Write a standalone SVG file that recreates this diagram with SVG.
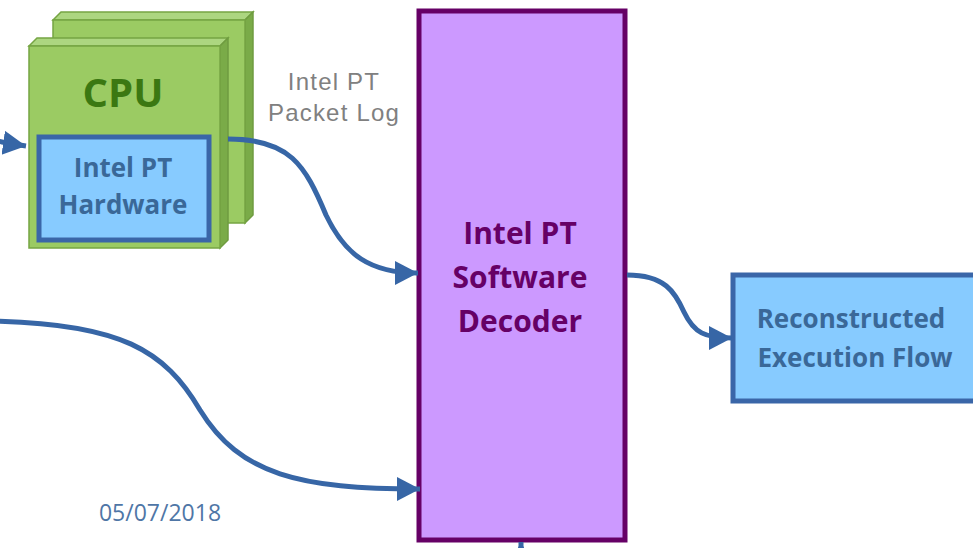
<svg xmlns="http://www.w3.org/2000/svg" width="973" height="548" viewBox="0 0 973 548">
<style>
.face{fill:#9bcb63;stroke:#76a543;stroke-width:1.5}
.top{fill:#acd680;stroke:#76a543;stroke-width:1.5}
.side{fill:#7aab48;stroke:#6f9c40;stroke-width:1.5}
.blue{fill:#87cbff;stroke:#3a66a8;stroke-width:5}
.dec{fill:#cc99ff;stroke:#660066;stroke-width:5}
.bt{font-family:"Open Sans","Noto Sans",sans-serif;font-weight:bold;text-anchor:middle}
.conn{fill:none;stroke:#3766a6;stroke-width:5}
</style>
<defs>
<marker id="ah" markerUnits="userSpaceOnUse" markerWidth="24" markerHeight="26" refX="23" refY="12" orient="auto" viewBox="0 0 24 24">
<path d="M0,0 L23,12 L0,24 z" fill="#3766a6"/>
</marker>
</defs>
<rect width="973" height="548" fill="#ffffff"/>
<g id="cpu">
<polygon class="top" points="53,20 61,12 253,12 245,20"/>
<polygon class="side" points="245,20 253,12 253,215 245,223"/>
<rect class="face" x="53" y="20" width="192" height="203"/>
<polygon class="top" points="29,46 37,38 228,38 220,46"/>
<polygon class="side" points="220,46 228,38 228,240 220,248"/>
<rect class="face" x="29" y="46" width="191" height="202"/>
<text class="bt" x="123" y="107" font-size="40" fill="#3b7812">CPU</text>
</g>
<g id="hardware">
<rect class="blue" x="39" y="137" width="170" height="103"/>
<text class="bt" x="123" y="177" font-size="26" fill="#3a6898">Intel PT</text>
<text class="bt" x="123" y="214" font-size="26" fill="#3a6898">Hardware</text>
</g>
<g id="decoder">
<rect class="dec" x="419" y="11" width="206" height="529"/>
<text class="bt" x="520" y="244" font-size="30" fill="#660066">Intel PT</text>
<text class="bt" x="520" y="288" font-size="30" fill="#660066">Software</text>
<text class="bt" x="520" y="332" font-size="30" fill="#660066">Decoder</text>
</g>
<g id="reconstructed">
<rect class="blue" x="733" y="275" width="260" height="126"/>
<text class="bt" x="851" y="328" font-size="26" fill="#3a6898">Reconstructed</text>
<text class="bt" x="855" y="367" font-size="26" fill="#3a6898">Execution Flow</text>
</g>
<g id="packet-log-label">
<text x="334" y="90" font-family="'Liberation Sans',Arial,sans-serif" font-size="24" letter-spacing="1.2" fill="#808080" text-anchor="middle">Intel PT</text>
<text x="334" y="121" font-family="'Liberation Sans',Arial,sans-serif" font-size="24" letter-spacing="1.2" fill="#808080" text-anchor="middle">Packet Log</text>
</g>
<g id="connectors">
<path class="conn" d="M -30 137 C -10 139, 5 143, 26 146" marker-end="url(#ah)"/>
<path class="conn" d="M 228 139 C 290 139, 305 165, 326 215 C 345 255, 370 273, 418 273" marker-end="url(#ah)"/>
<path class="conn" d="M -5 321 C 120 324, 165 350, 200 410 C 240 475, 300 489, 420 489" marker-end="url(#ah)"/>
<path class="conn" d="M 627 275 C 665 275, 675 292, 684 312 C 694 333, 705 338, 732 338" marker-end="url(#ah)"/>
<path class="conn" d="M 521 580 L 521 542" marker-end="url(#ah)"/>
</g>
<text id="date" x="160" y="521" font-family="'Open Sans','Noto Sans',sans-serif" font-size="23" fill="#4f76a6" text-anchor="middle">05/07/2018</text>
</svg>
